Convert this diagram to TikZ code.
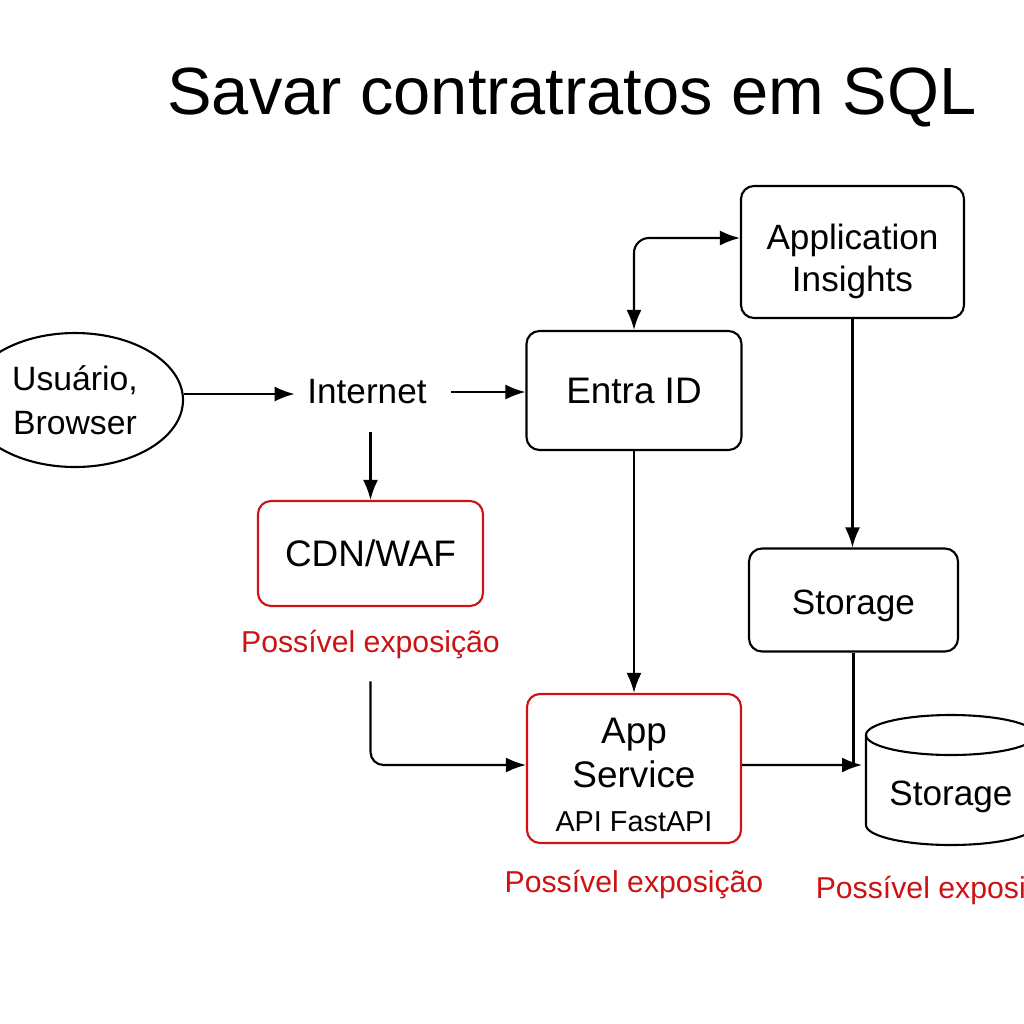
\documentclass[tikz,border=0pt]{standalone}
\usepackage{fontspec}
\setmainfont{Liberation Sans}
\usepackage{tikz}
\usetikzlibrary{arrows.meta,positioning,shapes.geometric}
\definecolor{exposed}{RGB}{204,18,18}

\begin{document}
\begin{tikzpicture}[>={Latex[length=2mm,width=1.5mm]},line width=0.6pt,
  svcbox/.style={draw,rounded corners=1.3mm,align=center,font=\fontsize{10.5}{12.5}\selectfont},
  riskbox/.style={svcbox,draw=exposed},
  risklabel/.style={text=exposed,font=\fontsize{8.6}{10}\selectfont}]
\useasboundingbox (0,0) rectangle (10.24,-10.24);
\clip (0,0) rectangle (10.24,-10.24);
\node[font=\fontsize{19}{22}\selectfont] (title) at (5.72,-0.97) {Savar contratratos em SQL};
\node[draw,ellipse,minimum width=2.16cm,minimum height=1.34cm,align=center,font=\fontsize{9.6}{12.5}\selectfont] (user) at (0.75,-4.00) {Usuário,\\Browser};
\node[font=\fontsize{10}{12}\selectfont] (inet) at (3.67,-3.92) {Internet};
\node[svcbox,minimum width=2.15cm,minimum height=1.19cm] (entra) at (6.34,-3.905) {Entra ID};
\node[svcbox,minimum width=2.23cm,minimum height=1.32cm,font=\fontsize{10}{12}\selectfont,text height=24.4pt] (appins) at (8.525,-2.52) {Application\\Insights};
\node[riskbox,minimum width=2.25cm,minimum height=1.05cm] (cdn) at (3.705,-5.535) {CDN/WAF};
\node[risklabel,below=1mm of cdn] (cdnrisk) {Possível exposição};
\node[riskbox,minimum width=2.14cm,minimum height=1.49cm,inner sep=1pt,text height=36pt] (app) at (6.34,-7.685) {App\\Service\\{\fontsize{8.2}{10}\selectfont API FastAPI}};
\node[risklabel,below=1.3mm of app] (apprisk) {Possível exposição};
\node[svcbox,minimum width=2.09cm,minimum height=1.03cm,font=\fontsize{10}{12}\selectfont,text height=10.1pt] (logstore) at (8.535,-6.00) {Storage};
% database cylinder
\draw (8.66,-7.35) -- (8.66,-8.25) arc[start angle=180,end angle=360,x radius=0.85,y radius=0.2] -- (10.36,-7.35);
\draw (9.51,-7.35) ellipse[x radius=0.85,y radius=0.2];
\node[font=\fontsize{10}{12}\selectfont] (db) at (9.51,-7.97) {Storage};
\coordinate (dbin) at (8.62,-7.65);
\node[risklabel,anchor=west] (dbrisk) at (8.03,-8.91) {Possível exposição};
\draw[->] ([yshift=0.6mm]user.east) -- ([yshift=0.6mm]user.east -| inet.west);
\draw[->,shorten <=1.2mm] (inet.east) -- (inet.east -| entra.west);
\draw[->,shorten <=1.5mm] (inet.south -| cdn.north) -- (cdn.north);
\draw[<->,rounded corners=1.5mm] (entra.north) |- ([yshift=1.4mm]appins.west);
\draw[->,rounded corners=1.3mm,shorten <=1mm] (cdnrisk.south) |- ([yshift=0.35mm]app.west);
\draw[->] (entra.south) -- (app.north);
\draw[->] (appins.south) -- (appins.south |- logstore.north);
\draw[->] ([yshift=0.35mm]app.east) -- (dbin);
\draw (logstore.south) -- (logstore.south |- dbin);
\end{tikzpicture}
\end{document}
